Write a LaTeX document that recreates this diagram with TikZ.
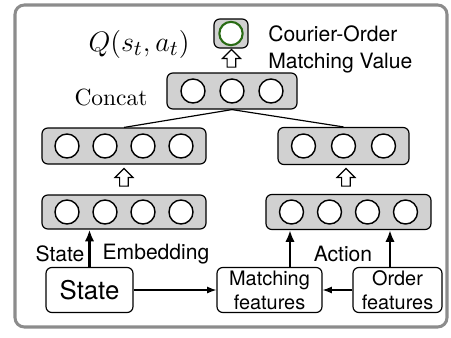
\documentclass[tikz,border=0pt]{standalone}
\usepackage{fontspec}
\newfontfamily\helv{TeX Gyre Heros}
\usepackage{amsmath}
\usepackage{xcolor}
\usepackage{tikz}
\usetikzlibrary{arrows.meta,positioning,calc,shapes.arrows}
\definecolor{framegray}{gray}{0.55}
\definecolor{layergray}{gray}{0.82}
\definecolor{outgreen}{rgb}{0.16,0.42,0.08}
\tikzset{
  layer/.style={draw,rounded corners=2.5pt,fill=layergray,line width=0.5pt,inner sep=0pt},
  neuron/.style={circle,draw,fill=white,line width=0.6pt,minimum size=0.36cm,inner sep=0pt},
  featbox/.style={draw,rounded corners=2.5pt,line width=0.5pt,align=center,inner sep=0pt},
  hollowup/.style={single arrow,draw,fill=white,line width=0.5pt,shape border rotate=90,
    minimum height=7.5pt,inner sep=1.6pt,single arrow head extend=2pt},
  uparr/.style={-{Latex[length=5pt,width=4pt]},line width=1pt},
  sidearr/.style={-{Latex[length=4pt,width=3pt]},line width=0.5pt},
  lab/.style={font=\helv\fontsize{9}{11.5}\selectfont},
  boxlab/.style={font=\helv\fontsize{8.5}{10.2}\selectfont},
}
\begin{document}
\begin{tikzpicture}[x=0.015cm,y=-0.015cm]
  \useasboundingbox (0,0) rectangle (451,337);
  \draw[framegray,line width=1.3pt,rounded corners=4pt] (15,5) rectangle (447,327);
  % output
  \node[layer,minimum width=0.51cm,minimum height=0.435cm] (out) at (231,33.5) {};
  \node[circle,draw=outgreen,line width=0.9pt,fill=white,minimum size=0.35cm,inner sep=0pt] (q) at (out.center) {};
  \node at (139,44) {\fontsize{12.5}{13}\selectfont$Q(s_t,a_t)$};
  \node[lab,align=left,anchor=west] (val) at (260,49) {Courier-Order\\Matching Value};
  % concat layer
  \node[layer,minimum width=1.95cm,minimum height=0.54cm] (cat) at (232,91) {};
  \foreach \i in {1,2,3}
    \node[neuron] (cat-\i) at ($(cat.center)+({(\i-2)*39},0)$) {};
  \node at (111,97) {Concat};
  % state branch
  \node[layer,minimum width=2.46cm,minimum height=0.54cm] (l2) at (124,146) {};
  \node[layer,minimum width=2.46cm,minimum height=0.51cm] (l1) at (124,212) {};
  \foreach \i in {1,...,4}{%
    \node[neuron] (l2-\i) at ($(l2.center)+({(\i-2.5)*38},0)$) {};
    \node[neuron] (l1-\i) at ($(l1.center)+({(\i-2.5)*38},0)$) {};}
  % action branch
  \node[layer,minimum width=1.965cm,minimum height=0.555cm] (r2) at (343.5,146) {};
  \node[layer,minimum width=2.475cm,minimum height=0.525cm] (r1) at (348.5,212) {};
  \foreach \i in {1,2,3}
    \node[neuron] (r2-\i) at ($(r2.center)+({(\i-2)*40},0)$) {};
  \foreach \i in {1,...,4}
    \node[neuron] (r1-\i) at ($(r1.center)+({(\i-2.5)*38},0)$) {};
  \node[hollowup] at ($(out.south)!0.5!(cat.north)$) {};
  \node[hollowup] at ($(l1.north)!0.5!(l2.south)$) {};
  \node[hollowup] at ($(r1.north)!0.5!(r2.south)$) {};
  \draw[line width=0.5pt] (l2.north) -- (cat.south) -- (r2.north);
  % inputs
  \node[featbox,minimum width=1.305cm,minimum height=0.675cm,font=\helv\fontsize{11}{12}\selectfont] (state) at (89.5,290) {State};
  \node[featbox,boxlab,minimum width=1.575cm,minimum height=0.675cm] (match) at (269.5,290) {Matching\\features};
  \node[featbox,boxlab,minimum width=1.335cm,minimum height=0.675cm] (order) at (397.5,290) {Order\\features};
  \draw[sidearr] (state) -- (match);
  \draw[sidearr] (order) -- (match);
  \draw[uparr] (state.north) -- (state.north |- l1.south);
  \draw[uparr] ([xshift=20.5*0.015cm]match.north) -- ([xshift=20.5*0.015cm]match.north |- r1.south);
  \draw[uparr] ([xshift=-7.5*0.015cm]order.north) -- ([xshift=-7.5*0.015cm]order.north |- r1.south);
  \node[lab] at (60,254) {State};
  \node[lab] at (156,254) {Embedding};
  \node[lab] at (343,254) {Action};
\end{tikzpicture}
\end{document}
